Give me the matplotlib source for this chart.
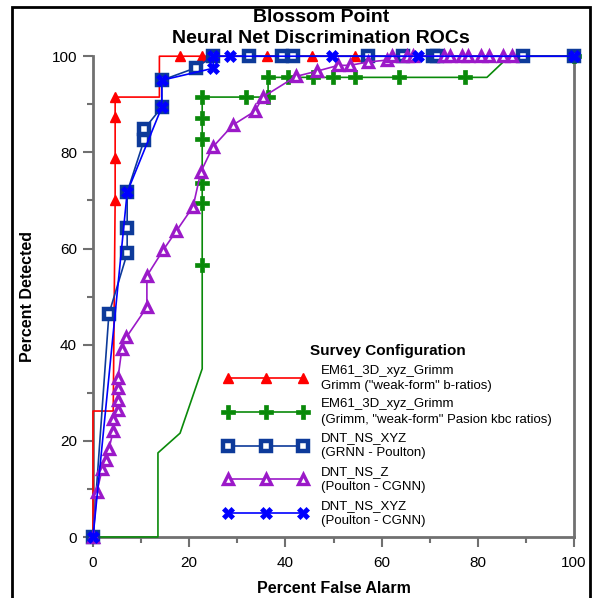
import matplotlib
matplotlib.use('Agg')
import matplotlib.pyplot as plt
from matplotlib.lines import Line2D
from matplotlib.patches import Rectangle

plt.rcParams['font.family'] = ['Liberation Sans', 'DejaVu Sans']

# EM61_3D_xyz_Grimm, "weak-form" b-ratios (red)
red_line_x = [0, 0, 4.2, 4.6, 4.6, 4.6, 4.6, 13.8, 13.8, 100]
red_line_y = [0, 26.2, 26.2, 70, 78.8, 87.3, 91.5, 91.5, 100, 100]
red_mark_x = [4.6, 4.6, 4.6, 4.6, 18.1, 22.6, 32.4, 36.1, 45.5, 54.5]
red_mark_y = [70, 78.8, 87.3, 91.5, 100, 100, 100, 100, 100, 100]

# EM61_3D_xyz_Grimm, "weak-form" Pasion kbc ratios (green)
grn_line_x = [0, 4.6, 13.5, 13.5, 18.1, 22.7, 22.7, 22.7, 36.4, 36.4, 81.9, 85.7, 88, 100]
grn_line_y = [0, 0, 0, 17.5, 21.6, 35, 56.5, 91.5, 91.5, 95.6, 95.6, 99.2, 100, 100]
grn_mark_x = [22.7, 22.7, 22.7, 22.7, 22.7, 22.7, 31.8, 36.4, 36.4, 40.5, 45.7, 49.9,
              54.5, 63.6, 77.3, 100]
grn_mark_y = [56.5, 69.5, 73.7, 82.7, 87.1, 91.5, 91.5, 91.5, 95.6, 95.6, 95.6, 95.6,
              95.6, 95.6, 95.6, 100]

# DNT_NS_XYZ, GRNN - Poulton (dark blue squares)
sq_x = [0, 3.3, 7.1, 7.1, 7.1, 10.6, 10.6, 14.3, 14.3, 21.4, 25, 32.4, 39.3, 41.6,
        57.2, 64.4, 70.7, 71.5, 89.4, 100]
sq_y = [0, 46.4, 59, 64.2, 71.7, 82.5, 84.8, 89.4, 95, 97.6, 100, 100, 100, 100,
        100, 100, 100, 100, 100, 100]

# DNT_NS_Z, Poulton - CGNN (purple triangles)
pu_x = [0, 0.8, 1.9, 2.7, 3.3, 4.2, 4.2, 5.2, 5.2, 5.2, 5.2, 6.0, 6.9, 11.2, 11.2,
        14.6, 17.3, 20.8, 22.4, 24.9, 29.1, 33.7, 35.3, 42.2, 46.6, 51, 53.4, 57.2,
        61.2, 62.2, 65.3, 66.5, 73, 74.2, 76.7, 78, 80.7, 82.3, 85.3, 87.1]
pu_y = [0, 9.4, 14.1, 16, 18.3, 22, 24.5, 26.4, 28.5, 31, 33.1, 39.2, 41.5, 47.8, 54.3,
        59.7, 63.6, 68.7, 75.9, 81.1, 85.7, 88.6, 91.5, 95.8, 96.9, 98.1, 98.1, 98.8,
        99.2, 100, 100, 100, 100, 100, 100, 100, 100, 100, 100, 100]

# DNT_NS_XYZ, Poulton - CGNN (blue X)
bx_x = [0, 7.1, 14.3, 14.3, 25, 25, 28.5, 49.7, 67.6, 100]
bx_y = [0, 71.7, 89.4, 95, 97.5, 100, 100, 100, 100, 100]

labels = ['EM61_3D_xyz_Grimm\nGrimm ("weak-form" b-ratios)',
          'EM61_3D_xyz_Grimm\n(Grimm, "weak-form" Pasion kbc ratios)',
          'DNT_NS_XYZ\n(GRNN - Poulton)',
          'DNT_NS_Z\n(Poulton - CGNN)',
          'DNT_NS_XYZ\n(Poulton - CGNN)']

red = '#ff0000'
green = '#0a8a0a'
navy = '#0d3a9a'
purple = '#9b19c8'
blue = '#0000ff'
grey = '#707070'

fig = plt.figure(figsize=(5.94, 5.98), dpi=100)
ax = fig.add_axes([0.1566, 0.102, 0.8097, 0.804])

styles = [
    dict(color=red, marker='^', ms=7, mfc=red, mec=red, mew=1),
    dict(color=green, marker='P', ms=10, mfc=green, mec=green, mew=0.5),
    dict(color=navy, marker='s', ms=6.5, mfc='white', mec=navy, mew=3.2),
    dict(color=purple, marker='^', ms=7.5, mfc='white', mec=purple, mew=2.4),
    dict(color=blue, marker='X', ms=9, mfc=blue, mec=blue, mew=0.5),
]

ax.plot(red_line_x, red_line_y, color=red, lw=1.2, clip_on=False, zorder=3)
ax.plot(red_mark_x, red_mark_y, ls='none', clip_on=False, zorder=3,
        **{k: v for k, v in styles[0].items() if k != 'color'})
ax.plot(grn_line_x, grn_line_y, color=green, lw=1.2, clip_on=False, zorder=4)
ax.plot(grn_mark_x, grn_mark_y, ls='none', clip_on=False, zorder=4,
        **{k: v for k, v in styles[1].items() if k != 'color'})
ax.plot(sq_x, sq_y, lw=1.2, clip_on=False, zorder=5, **styles[2])
ax.plot(pu_x, pu_y, lw=1.2, clip_on=False, zorder=6, **styles[3])
ax.plot(bx_x, bx_y, lw=1.2, clip_on=False, zorder=7, **styles[4])

# grey line at x = 100
ax.plot([100, 100], [0, 100], color=grey, lw=2, clip_on=False, zorder=2)

ax.set_xlim(0, 100)
ax.set_ylim(0, 100)
ax.set_xticks(range(0, 101, 20))
ax.set_yticks(range(0, 101, 20))
ax.set_xticks(range(10, 100, 20), minor=True)
ax.set_yticks(range(10, 100, 20), minor=True)
ax.tick_params(which='major', length=7.5, width=1.5, color=grey, labelsize=11, pad=4)
ax.tick_params(which='minor', length=4.5, width=1.5, color=grey)
ax.tick_params(axis='x', which='major', pad=6)
for s in ['top', 'right']:
    ax.spines[s].set_visible(False)
for s in ['left', 'bottom']:
    ax.spines[s].set_color(grey)
    ax.spines[s].set_linewidth(2)

ax.set_xlabel('Percent False Alarm', fontsize=11.5, fontweight='bold', labelpad=8)
ax.set_ylabel('Percent Detected', fontsize=11.5, fontweight='bold', labelpad=12)

handles = [Line2D([], [], lw=1.2, **st) for st in styles]
leg = ax.legend(handles, labels, loc='upper left', bbox_to_anchor=(0.362, 0.44),
                bbox_transform=fig.transFigure, frameon=False, numpoints=3,
                handlelength=6.3, handletextpad=1.0, labelspacing=0.5,
                fontsize=9.5, title='Survey Configuration',
                title_fontproperties={'weight': 'bold', 'size': 11},
                borderpad=0.2)
for t in leg.get_texts():
    t.set_linespacing(1.35)

fig.text(0.540, 0.97, 'Blossom Point', ha='center', va='center',
         fontsize=14, fontweight='bold')
fig.text(0.540, 0.936, 'Neural Net Discrimination ROCs', ha='center', va='center',
         fontsize=14, fontweight='bold')

fig.patches.append(Rectangle((12 / 594, -0.05), 578 / 594, 1.05 - 7 / 598,
                             transform=fig.transFigure, fill=False,
                             edgecolor='black', lw=2))

fig.savefig('out.png', dpi=100)
